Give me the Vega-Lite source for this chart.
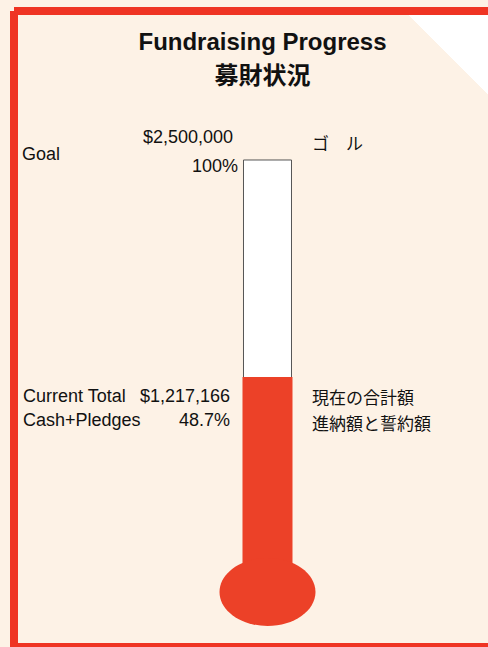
{
  "$schema": "https://vega.github.io/schema/vega-lite/v6.json",
  "width": 474,
  "height": 636,
  "autosize": "none",
  "padding": {"left": 14, "top": 11, "right": 0, "bottom": 0},
  "background": "#fdf2e6",
  "view": {
    "fill": {"gradient": "linear", "x1": 0, "y1": 1, "x2": 1.49, "y2": -1, "stops": [{"offset": 0, "color": "#fdf2e6"}, {"offset": 0.5187, "color": "#fdf2e6"}, {"offset": 0.5187, "color": "#ffffff"}, {"offset": 1, "color": "#ffffff"}]},
    "stroke": "#ef3423",
    "strokeWidth": 8,
    "strokeDash": [474, 636, 1110, 0]
  },
  "title": {
    "text": "Fundraising Progress",
    "subtitle": "募財状況",
    "font": "Liberation Sans",
    "fontSize": 24,
    "fontWeight": "bold",
    "color": "#111111",
    "subtitleFont": "Noto Sans CJK JP",
    "subtitleFontSize": 24,
    "subtitleFontWeight": "bold",
    "subtitleColor": "#111111",
    "subtitlePadding": 10,
    "anchor": "middle",
    "frame": "group",
    "offset": -78,
    "dx": 11.5
  },
  "config": {
    "text": {"font": "Liberation Sans", "fontSize": 18, "fill": "#111111", "baseline": "middle"}
  },
  "datasets": {
    "fund": [
      {"measure": "Goal", "label": "Goal", "label2": "", "value": 2500000, "pct": 1, "jp": "ゴ　ル", "jp2": ""},
      {"measure": "Current", "label": "Current Total", "label2": "Cash+Pledges", "value": 1217166, "pct": 0.487, "jp": "現在の合計額", "jp2": "進納額と誓約額"}
    ]
  },
  "data": {"name": "fund"},
  "encoding": {
    "x": {"datum": "Campaign", "type": "nominal", "scale": {"type": "point", "align": 0.5348, "padding": 0}, "axis": null},
    "y": {"field": "value", "type": "quantitative", "scale": {"domain": [-378251, 3380614], "nice": false, "zero": false}, "axis": null}
  },
  "layer": [
    {
      "transform": [{"filter": "datum.measure === 'Goal'"}],
      "mark": {"type": "bar", "width": 48, "fill": "#ffffff", "stroke": "#555555", "strokeWidth": 1},
      "encoding": {"y2": {"datum": 0}}
    },
    {
      "transform": [{"filter": "datum.measure === 'Current'"}],
      "mark": {"type": "bar", "width": 50, "fill": "#ec4128"},
      "encoding": {"y2": {"datum": 0}}
    },
    {
      "transform": [{"filter": "datum.measure === 'Current'"}],
      "mark": {"type": "point", "shape": "M-1,0C-1,-0.391,-0.552,-0.708,0,-0.708C0.552,-0.708,1,-0.391,1,0C1,0.391,0.552,0.708,0,0.708C-0.552,0.708,-1,0.391,-1,0Z", "size": 9216, "filled": true, "fill": "#ec4128", "opacity": 1, "strokeWidth": 0, "yOffset": 9},
      "encoding": {"y": {"datum": 0, "type": "quantitative"}}
    },
    {
      "transform": [{"filter": "datum.measure === 'Goal'"}],
      "mark": {"type": "text", "align": "left", "dx": -245.5, "dy": -5},
      "encoding": {"text": {"field": "label"}}
    },
    {
      "transform": [{"filter": "datum.measure === 'Goal'"}],
      "mark": {"type": "text", "align": "right", "dx": -34.5, "dy": -22},
      "encoding": {"text": {"field": "value", "format": "$,.0f"}}
    },
    {
      "transform": [{"filter": "datum.measure === 'Goal'"}],
      "mark": {"type": "text", "align": "right", "dx": -29.5, "dy": 7},
      "encoding": {"text": {"field": "pct", "format": ".1~%"}}
    },
    {
      "transform": [{"filter": "datum.measure === 'Goal'"}],
      "mark": {"type": "text", "align": "left", "dx": 44.5, "dy": -15, "font": "Noto Sans CJK JP", "fontSize": 17},
      "encoding": {"text": {"field": "jp"}}
    },
    {
      "transform": [{"filter": "datum.measure === 'Current'"}],
      "mark": {"type": "text", "align": "left", "dx": -244.5, "dy": 20},
      "encoding": {"text": {"field": "label"}}
    },
    {
      "transform": [{"filter": "datum.measure === 'Current'"}],
      "mark": {"type": "text", "align": "left", "dx": -244.5, "dy": 44},
      "encoding": {"text": {"field": "label2"}}
    },
    {
      "transform": [{"filter": "datum.measure === 'Current'"}],
      "mark": {"type": "text", "align": "right", "dx": -37.5, "dy": 20},
      "encoding": {"text": {"field": "value", "format": "$,.0f"}}
    },
    {
      "transform": [{"filter": "datum.measure === 'Current'"}],
      "mark": {"type": "text", "align": "right", "dx": -37.5, "dy": 44},
      "encoding": {"text": {"field": "pct", "format": ".1~%"}}
    },
    {
      "transform": [{"filter": "datum.measure === 'Current'"}],
      "mark": {"type": "text", "align": "left", "dx": 44.5, "dy": 22, "font": "Noto Sans CJK JP", "fontSize": 17},
      "encoding": {"text": {"field": "jp"}}
    },
    {
      "transform": [{"filter": "datum.measure === 'Current'"}],
      "mark": {"type": "text", "align": "left", "dx": 44.5, "dy": 48, "font": "Noto Sans CJK JP", "fontSize": 17},
      "encoding": {"text": {"field": "jp2"}}
    }
  ]
}
